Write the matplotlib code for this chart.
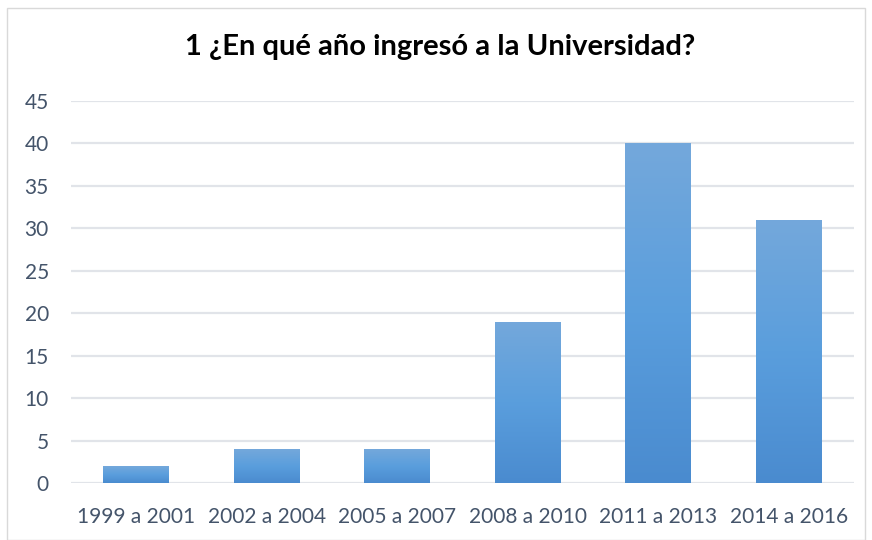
import matplotlib
matplotlib.use("Agg")
import matplotlib.pyplot as plt
import numpy as np
from matplotlib.colors import LinearSegmentedColormap
from matplotlib.patches import Rectangle

categories = ["1999 a 2001", "2002 a 2004", "2005 a 2007", "2008 a 2010", "2011 a 2013", "2014 a 2016"]
values = [2, 4, 4, 19, 40, 31]
yticks = [0, 5, 10, 15, 20, 25, 30, 35, 40, 45]
title = "1 ¿En qué año ingresó a la Universidad?"

plt.rcParams['font.family'] = ['Lato', 'DejaVu Sans']

fig = plt.figure(figsize=(8.72, 5.4), dpi=100)
W, H = 872, 540
# outer chart border
fig.patches.append(Rectangle((7 / W, 0), (865 - 7) / W, (540 - 8) / H, transform=fig.transFigure,
                             fill=False, edgecolor="#D9D9D9", linewidth=1.0))

ax = fig.add_axes([71 / W, (540 - 483) / H, (854 - 71) / W, (483 - 101) / H])
x = np.arange(len(categories))
bars = ax.bar(x, values, width=0.505, color="none", edgecolor="none", zorder=3)

cmap = LinearSegmentedColormap.from_list("g", ["#4A8BCF", "#5A9EDD", "#74A8DB"])
grad = np.linspace(0, 1, 256).reshape(-1, 1)
for b in bars:
    x0, y0 = b.get_x(), b.get_y()
    w, h = b.get_width(), b.get_height()
    im = ax.imshow(grad, cmap=cmap, aspect="auto", origin="lower",
                   extent=[x0, x0 + w, y0, y0 + h], zorder=3, interpolation="bilinear")
    im.set_clip_path(b)

ax.set_xlim(-0.5, len(categories) - 0.5)
ax.set_ylim(0, 45)
ax.set_yticks(yticks)
ax.set_xticks(x)
ax.set_xticklabels(categories)
ax.yaxis.grid(True, color="#E1E4E9", linewidth=1.6, zorder=0)
ax.set_axisbelow(True)
for s in ax.spines.values():
    s.set_visible(False)
ax.tick_params(axis="both", length=0, labelsize=15, labelcolor="#44546A")
ax.tick_params(axis="x", pad=17)
ax.tick_params(axis="y", pad=16)

fig.text(440 / W, 1 - 47 / H, title, ha="center", va="center", fontsize=21, fontweight="bold", color="black")

fig.savefig("out.png", dpi=100)
